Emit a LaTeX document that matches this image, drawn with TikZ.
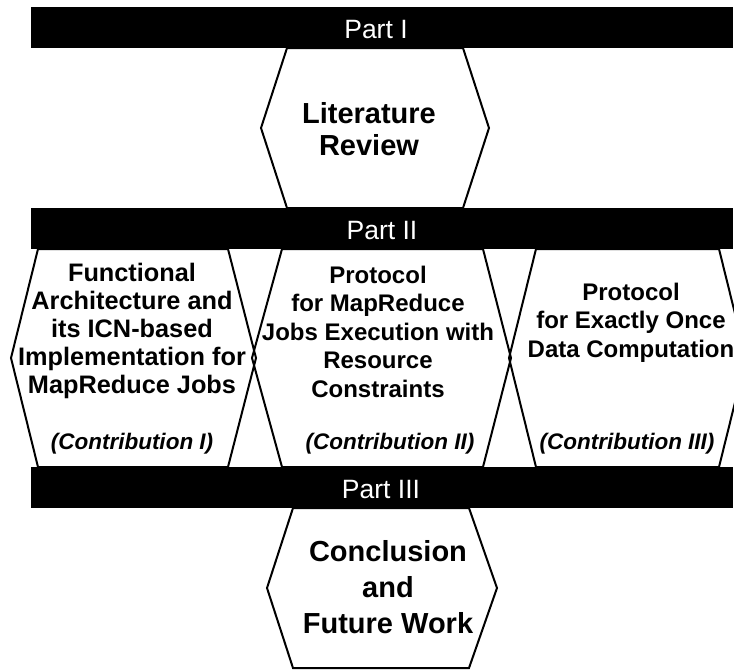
\documentclass[tikz,border=0pt]{standalone}
\usepackage{fontspec}
\setmainfont{Liberation Sans}
\begin{document}
\begin{tikzpicture}[x=1pt,y=-1pt,
  hexline/.style={draw=black,line width=2pt,line join=miter},
  partbar/.style={fill=black},
  parttext/.style={text=white,anchor=base,inner sep=0pt,font=\fontsize{26.5}{30}\selectfont},
  bigtext/.style={anchor=base,align=center,inner sep=0pt,font=\fontsize{29}{32}\selectfont\bfseries},
  bodytext/.style={anchor=base,align=center,inner sep=0pt,font=\fontsize{24}{28.5}\selectfont\bfseries},
  contrib/.style={anchor=base,inner sep=0pt,font=\fontsize{22.5}{26}\selectfont\bfseries\itshape}]
\useasboundingbox (0,0) rectangle (734,670);
\begin{scope}
\clip (0,0) rectangle (734,670);
% hexagonal chapter frames
\draw[hexline] (287,48) -- (463,48) -- (489,128) -- (463,208) -- (287,208) -- (261,128) -- cycle;
\draw[hexline] (38,249) -- (228,249) -- (256,358) -- (228,467) -- (38,467) -- (11,358) -- cycle;
\draw[hexline] (282,249) -- (483,249) -- (511,358) -- (483,467) -- (282,467) -- (252,358) -- cycle;
\draw[hexline] (536,249) -- (719,249) -- (746,358) -- (719,467) -- (536,467) -- (509,358) -- cycle;
\draw[hexline] (293,508) -- (469,508) -- (497,588) -- (469,668) -- (293,668) -- (267,588) -- cycle;
% part headers
\fill[partbar] (31,7) rectangle (733,48);
\fill[partbar] (31,208) rectangle (733,249);
\fill[partbar] (31,467) rectangle (733,508);
\end{scope}
\node[parttext] (p1) at (376,38) {Part I};
\node[parttext] (p2) at (382,239) {Part II};
\node[parttext] (p3) at (381,498) {Part III};
% chapter titles (anchored on the baseline of their last line)
\node[bigtext] (lit) at (369,155) {Literature\\Review};
\node[bodytext,font=\fontsize{25.3}{28}\selectfont\bfseries] (c1) at (132,393) {Functional\\Architecture and\\its ICN-based\\Implementation for\\MapReduce Jobs};
\node[bodytext] (c2) at (378,397) {Protocol\\for MapReduce\\Jobs Execution with\\Resource\\Constraints};
\node[bodytext] (c3) at (631,357) {Protocol\\for Exactly Once\\Data Computation};
\node[contrib] (k1) at (132,449) {(Contribution I)};
\node[contrib] (k2) at (390,449) {(Contribution II)};
\node[contrib] (k3) at (627,449) {(Contribution III)};
\node[bigtext,font=\fontsize{29}{36}\selectfont\bfseries] (conc) at (388,633) {Conclusion\\and\\Future Work};
\end{tikzpicture}
\end{document}
